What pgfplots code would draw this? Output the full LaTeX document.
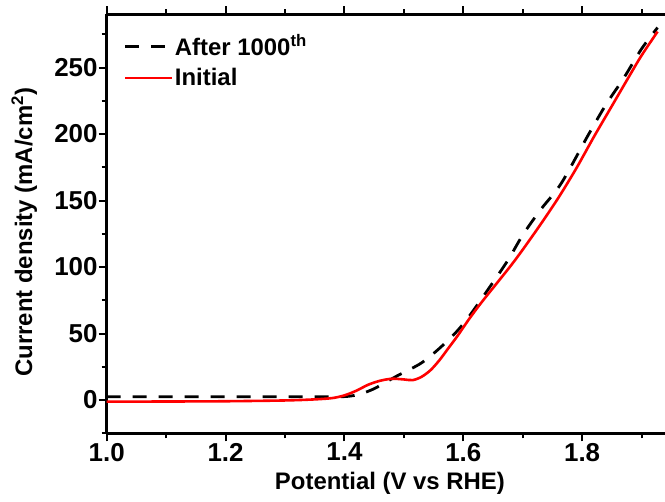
\documentclass[border=0pt]{standalone}
\usepackage{fontspec}
\setmainfont{Liberation Sans}
\usepackage{pgfplots}
\pgfplotsset{compat=1.18}
\definecolor{myred}{RGB}{255,0,0}
\begin{document}
\begin{tikzpicture}
\begin{axis}[
  scale only axis,
  width=558.6bp, height=419bp,
  xmin=1.0, xmax=1.94, ymin=-25, ymax=290,
  axis x line*=box, axis y line*=left,
  axis line style={line width=2.6bp, black},
  tick align=outside,
  major tick length=8bp, minor tick length=5bp,
  every tick/.style={line width=2bp, black},
  xtick={1.0,1.2,1.4,1.6,1.8},
  minor xtick={1.1,1.3,1.5,1.7,1.9},
  ytick={0,50,100,150,200,250},
  minor ytick={-25,25,75,125,175,225,275},
  xticklabels={1.0,1.2,1.4,1.6,1.8},
  /pgf/number format/assume math mode=true,
  tick label style={font=\fontsize{26}{30}\selectfont\bfseries},
  yticklabel style={inner sep=1bp},
  xticklabel style={inner sep=1.5bp},
  label style={font=\fontsize{24}{28}\selectfont\bfseries},
  xlabel={Potential (V vs RHE)},
  ylabel={Current density (mA/cm\textsuperscript{2})},
  xlabel style={at={(rel axis cs:0.507,-0.135)}, anchor=base},
  ylabel style={at={(rel axis cs:-0.1337,0.48)}, anchor=base},
  legend style={at={(rel axis cs:0.03,0.955)}, anchor=north west, draw=none, fill=none,
    font=\fontsize{24}{28}\selectfont\bfseries, row sep=8bp, inner sep=0pt,
    nodes={inner sep=1.5bp}},
  legend cell align=left,
  legend image code/.code={\draw[#1] (0bp,0bp) -- (47bp,0bp);},
]
\coordinate (O) at (rel axis cs:0,0);
\addplot[black, line width=2.8bp, dash pattern=on 14bp off 12bp, smooth, tension=0.5] coordinates {
(1.00,2.5) (1.20,2.5) (1.38,2.5) (1.41,3) (1.43,5) (1.45,8.5) (1.47,13.5) (1.49,18.5)
(1.51,23) (1.53,28) (1.55,35) (1.57,43) (1.59,52) (1.61,63) (1.64,82) (1.675,105)
(1.70,124) (1.73,143) (1.765,163) (1.81,199) (1.84,222) (1.87,242) (1.90,264) (1.927,280)
};
\addlegendentry{After 1000\textsuperscript{th}}
\addplot[myred, line width=2.6bp, smooth, tension=0.5] coordinates {
(1.00,-1.2) (1.10,-1.1) (1.20,-0.9) (1.30,-0.3) (1.35,0.5) (1.38,1.5) (1.40,3.5) (1.42,7)
(1.44,11.5) (1.46,14.5) (1.48,16) (1.50,15.5) (1.515,15) (1.53,17.5) (1.545,22.5) (1.56,30)
(1.575,39) (1.59,48) (1.61,61) (1.63,73) (1.655,87) (1.68,101) (1.70,113) (1.73,132)
(1.76,152) (1.79,174) (1.82,198) (1.85,221) (1.88,244) (1.90,259) (1.927,277)
};
\addlegendentry{Initial}
\end{axis}
\pgfresetboundingbox
\path (O) ++(-106.7bp,-68.7bp) rectangle ++(665bp,502bp);
\end{tikzpicture}
\end{document}
